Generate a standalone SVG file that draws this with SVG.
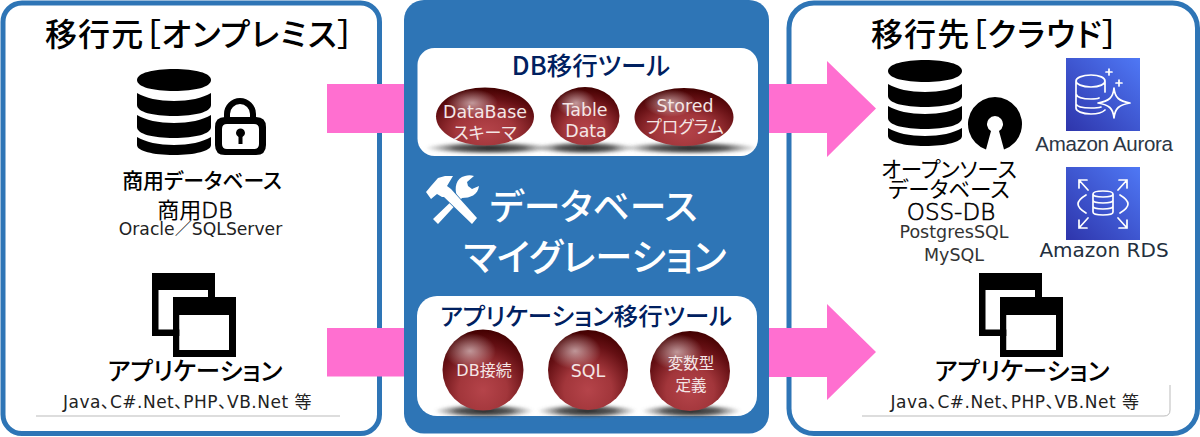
<svg xmlns="http://www.w3.org/2000/svg" width="1200" height="437" viewBox="0 0 1200 437">
<style>
text{font-family:"Noto Sans CJK JP","Noto Sans",sans-serif;text-anchor:middle;fill:#000;font-feature-settings:"palt"}
.lat{font-family:"DejaVu Sans","Noto Sans CJK JP",sans-serif}
.ttl{font-size:32px;font-weight:500;text-anchor:start;letter-spacing:1.100px}
.panel{fill:#fff;stroke:#2e75b6;stroke-width:5}
.pink{fill:#ff6fd0}
.tool{fill:#fff}
.h{fill:#002060;font-weight:500}
.w{fill:#f4e6e6}
.big{fill:#fff;font-weight:500}
.glow{fill:url(#hl)}
.shd{fill:url(#sh);filter:url(#soft)}
.thin{font-weight:200;stroke:#000;stroke-width:.6}
.note{fill:#222;font-size:17px;letter-spacing:.5px}
.aws{fill:none;stroke:#fff;stroke-width:1.7;stroke-linejoin:round;stroke-linecap:round}
</style>
<defs>
<filter id="soft" x="-10%" y="-50%" width="120%" height="200%"><feGaussianBlur stdDeviation="1.5"/></filter>
<radialGradient id="ball" cx="0.5" cy="0.75" r="0.75">
<stop offset="0" stop-color="#b5444a"/><stop offset="0.4" stop-color="#a2363b"/><stop offset="0.75" stop-color="#661014"/><stop offset="1" stop-color="#420000"/>
</radialGradient>
<radialGradient id="hl" cx="0.5" cy="0.5" r="0.5">
<stop offset="0" stop-color="#fff" stop-opacity="0.55"/><stop offset="1" stop-color="#fff" stop-opacity="0"/>
</radialGradient>
<radialGradient id="sh" cx="0.5" cy="0.5" r="0.5">
<stop offset="0" stop-color="#222"/><stop offset="0.55" stop-color="#333" stop-opacity="0.8"/><stop offset="1" stop-color="#666" stop-opacity="0"/>
</radialGradient>
<linearGradient id="awsg" x1="0" y1="1" x2="1" y2="0">
<stop offset="0" stop-color="#2e35ab"/><stop offset="1" stop-color="#4f78f5"/>
</linearGradient>
<g id="db">
<path d="M0 11C0 4 16 0 37 0S74 4 74 11S58 22 37 22S0 18 0 11Z"/>
<path d="M0 24C8 29 22 32 37 32S66 29 74 24V36C74 43 58 47 37 47S0 43 0 36Z"/>
<path d="M0 46C8 51 22 54 37 54S66 51 74 46V58C74 65 58 69 37 69S0 65 0 58Z"/>
<path d="M0 68C8 73 22 76 37 76S66 73 74 68V76C74 82 58 86 37 86S0 82 0 76Z"/>
</g>
<g id="win" fill-rule="evenodd">
<path d="M0 0H63V63H0ZM6.500 17V56.500H56V17Z"/>
<path d="M21 24H84V84H21ZM27.500 42V77H77V42Z"/>
<rect x="27.500" y="42" width="49.500" height="35" fill="#fff"/>
</g>
</defs>

<g id="source-panel">
<rect class="panel" x="3" y="3" width="376.500" height="430.500" rx="19"/>
<text class="ttl" x="45" y="46">移行元［オンプレミス］</text>
</g>
<g id="target-panel">
<rect class="panel" x="789" y="3" width="408.500" height="430.500" rx="25"/>
<text class="ttl" x="871" y="46">移行先［クラウド］</text>
</g>

<g id="connectors">
<rect class="pink" x="327" y="84" width="78" height="49"/>
<rect class="pink" x="327" y="328" width="78" height="48.500"/>
<path class="pink" d="M768 84H827V61L876 108.500L827 157V133H768Z"/>
<path class="pink" d="M768 328H827V304L876 352L827 400V377H768Z"/>
</g>

<g id="source-db">
<use href="#db" x="137" y="69"/>
<path d="M224 118V114A16 16 0 0 1 256 114V118H250V114A10 10 0 0 0 230 114V118Z"/>
<path fill-rule="evenodd" d="M225 117H256Q266 117 266 127V145Q266 155 256 155H225Q215 155 215 145V127Q215 117 225 117ZM227 124Q222 124 222 129V144Q222 149 227 149H254Q259 149 259 144V129Q259 124 254 124ZM240.500 128.500A4.500 4.500 0 0 1 242.500 137V144H238.500V137A4.500 4.500 0 0 1 240.500 128.500Z"/>
<text x="202" y="188" font-size="20.900" font-weight="500">商用データベース</text>
<text x="195" y="218" font-size="22" font-weight="400">商用<tspan class="lat thin">DB</tspan></text>
<text x="200.500" y="235" font-size="17.200" class="lat" style="fill:#222">Oracle／SQLServer</text>
</g>
<g id="source-app">
<use href="#win" x="152" y="273"/>
<text x="195" y="380" font-size="24.500" font-weight="500">アプリケーション</text>
<path d="M36 416H340" stroke="#bbb" stroke-width="1" fill="none"/>
<text class="lat note" x="187.500" y="408">Java、C#.Net、PHP、VB.Net   等</text>
</g>

<g id="center-panel">
<rect x="404" y="0" width="365" height="433.500" rx="20" fill="#2e75b6"/>
</g>
<g id="db-tool">
<rect class="tool" x="417.500" y="48" width="340.500" height="108" rx="17"/>
<ellipse class="shd" cx="489" cy="148" rx="64" ry="6.500"/>
<ellipse class="shd" cx="585" cy="148" rx="50" ry="6.500"/>
<ellipse class="shd" cx="690" cy="148" rx="68" ry="6.500"/>
<ellipse cx="485" cy="116.500" rx="49" ry="29" fill="url(#ball)"/>
<ellipse cx="472" cy="103" rx="26" ry="14" class="glow"/>
<ellipse cx="585" cy="116" rx="34.500" ry="29" fill="url(#ball)"/>
<ellipse cx="576" cy="103" rx="20" ry="14" class="glow"/>
<ellipse cx="684" cy="117" rx="49.500" ry="29" fill="url(#ball)"/>
<ellipse cx="670" cy="103" rx="26" ry="14" class="glow"/>
<text class="h" x="591" y="75" font-size="25.500">DB移行ツール</text>
<text class="w lat" x="485" y="118" font-size="17.400">DataBase</text>
<text class="w" x="485" y="139" font-size="17">スキーマ</text>
<text class="w lat" x="585" y="116" font-size="17.400">Table</text>
<text class="w lat" x="586" y="137" font-size="17.400">Data</text>
<text class="w lat" x="685" y="112" font-size="17.400">Stored</text>
<text class="w" x="685" y="133" font-size="17">プログラム</text>
</g>
<g id="migration-title">
<path fill="#fff" d="M457 196C454 188 456 178 465 176C468 175 471 175 474 176L467 182L468 186L472 189L479 186C478 195 470 198 462 198L438 224L433 219Z"/>
<path fill="#fff" stroke="#2e75b6" stroke-width="1.500" paint-order="stroke" d="M426 192L431 199L437 194L442 197L444 197L472 224L477 218L451 189L447 186L453 176L445 176L438 178L431 186Z"/>
<text class="big" x="593.500" y="220" font-size="36.800" style="fill:#fff">データベース</text>
<text class="big" x="595" y="271" font-size="37.200" style="fill:#fff">マイグレーション</text>
</g>
<g id="app-tool">
<rect class="tool" x="417" y="296" width="340" height="120" rx="20"/>
<ellipse class="shd" cx="484" cy="411" rx="50" ry="7"/>
<ellipse class="shd" cx="587" cy="411" rx="50" ry="7"/>
<ellipse class="shd" cx="691" cy="411" rx="50" ry="7"/>
<circle cx="483" cy="370" r="40.500" fill="url(#ball)"/>
<ellipse cx="470" cy="351" rx="26" ry="18" class="glow"/>
<circle cx="588" cy="370" r="40" fill="url(#ball)"/>
<ellipse cx="575" cy="351" rx="26" ry="18" class="glow"/>
<circle cx="690" cy="371" r="40" fill="url(#ball)"/>
<ellipse cx="677" cy="352" rx="26" ry="18" class="glow"/>
<text class="h" x="586" y="325" font-size="24.400">アプリケーション移行ツール</text>
<text class="w" x="484" y="376" font-size="16"><tspan class="lat">DB</tspan>接続</text>
<text class="w lat" x="588" y="377" font-size="17.400">SQL</text>
<text class="w" x="691" y="369" font-size="15.500">変数型</text>
<text class="w" x="691" y="391" font-size="15.500">定義</text>
</g>

<g id="target-db">
<use href="#db" x="888" y="60"/>
<path d="M986 149.500A27 27 0 1 1 1004 149.500L999 131A8 8 0 1 0 991 131Z"/>
<text x="949" y="177" font-size="21.500" font-weight="400">オープンソース</text>
<text x="949" y="197" font-size="21.500" font-weight="400">データベース</text>
<text x="951" y="220" font-size="23" class="lat thin">OSS-DB</text>
<text x="954" y="238" font-size="17.500" class="lat" style="fill:#333">PostgresSQL</text>
<text x="954" y="261" font-size="17.500" class="lat" style="fill:#333">MySQL</text>
</g>
<g id="aurora">
<rect x="1066" y="58" width="74" height="73" fill="url(#awsg)"/>
<path class="aws" d="M1076 81C1076 78 1082 75 1091 75S1105 78 1105 81S1100 87 1091 87S1076 84 1076 81ZM1076 81V108C1076 111 1082 114 1091 114S1103 112 1105 110M1076 94C1077 97 1083 99 1091 99C1094 99 1097 99 1099 98M1076 104C1077 107 1083 108 1091 108C1094 108 1098 108 1101 107M1105 81V92"/>
<path class="aws" d="M1114 88C1115 98 1119 101 1130 103C1119 105 1115 108 1114 118C1113 108 1109 105 1098 103C1109 101 1113 98 1114 88Z"/>
<path class="aws" d="M1109 69V75M1106 72H1112M1119 80V86M1116 83H1122"/>
<text x="1104" y="151" font-size="20.500" letter-spacing="-0.300" style="font-family:'Liberation Sans',sans-serif;fill:#2b3645">Amazon Aurora</text>
</g>
<g id="rds">
<rect x="1066" y="167" width="74" height="73" fill="url(#awsg)"/>
<path class="aws" d="M1093 194C1093 190 1113 190 1113 194V212C1113 216 1093 216 1093 212ZM1093 194C1093 198 1113 198 1113 194M1093 200C1093 204 1113 204 1113 200M1093 206C1093 210 1113 210 1113 206"/>
<path class="aws" d="M1086 195C1081 198 1078 201 1078 204S1081 210 1086 213M1120 195C1125 198 1128 201 1128 204S1125 210 1120 213"/>
<path class="aws" d="M1079 180H1087M1079 180V188M1079 180L1088 190M1127 180H1119M1127 180V188M1127 180L1118 190M1079 228H1087M1079 228V220M1079 228L1088 218M1127 228H1119M1127 228V220M1127 228L1118 218"/>
<text x="1104" y="257" font-size="20" class="lat" style="fill:#232f3e">Amazon RDS</text>
</g>
<g id="target-app">
<use href="#win" x="979" y="273"/>
<text x="1022" y="380" font-size="24.500" font-weight="500">アプリケーション</text>
<path d="M862 416H1164Q1170 416 1170 410V385" stroke="#bbb" stroke-width="1" fill="none"/>
<text class="lat note" x="1015" y="408">Java、C#.Net、PHP、VB.Net   等</text>
</g>
</svg>
